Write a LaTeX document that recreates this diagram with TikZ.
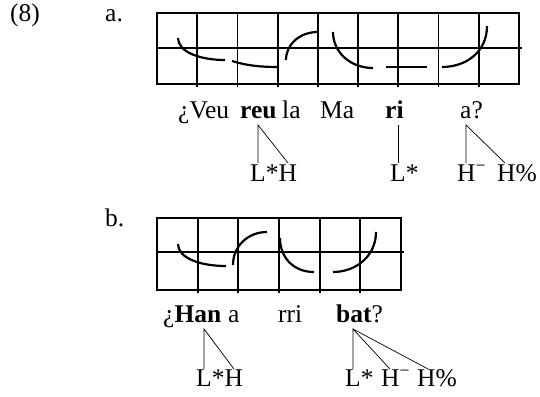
\documentclass[tikz,border=0pt]{standalone}
\usepackage{fontspec}
\setmainfont{Liberation Serif}
\begin{document}
\begin{tikzpicture}[x=1pt,y=-1pt,
  gridline/.style={line width=1.8pt},
  contour/.style={line width=2.2pt},
  assoc/.style={line width=0.7pt},
  word/.style={anchor=base west,inner sep=0pt,font=\fontsize{25.5}{28}\selectfont},
  tone/.style={anchor=base west,inner sep=0pt,font=\fontsize{25.5}{28}\selectfont}]
\useasboundingbox (0,0) rectangle (540,396);
% labels
\node[word] (ex) at (10,22) {(8)};
\node[word] (la) at (105,22) {a.};
\node[word] (lb) at (105,226) {b.};
% grid a
\draw[gridline] (157,13) rectangle (519,84);
\draw[gridline] (157,48) -- (522,48);
\foreach \x in {197.2,237.4,277.6,317.8,358,398.2,438.4,478.6}
  \draw[gridline] (\x,13) -- (\x,87);
% contour a
\draw[contour] (178,38) .. controls (178,52) and (200,60) .. (225,60);
\draw[contour] (232,61) .. controls (248,66) and (262,67) .. (279,67);
\draw[contour] (286,60) .. controls (286,44) and (300,32) .. (318,32);
\draw[contour] (333,32) .. controls (333,52) and (350,68) .. (373,68);
\draw[contour] (386,67) -- (427,67);
\draw[contour] (442,67) .. controls (466,67) and (487,52) .. (487,26);
% text a
\node[word] (w1) at (178,118) {¿Veu};
\node[word] (w2) at (240,118) {\textbf{reu}};
\node[word] (w3) at (282,118) {la};
\node[word] (w4) at (320,118) {Ma};
\node[word] (w5) at (385,118) {\textbf{ri}};
\node[word] (w6) at (460,118) {a?};
\node[tone] (t1) at (250,181) {L*H};
\node[tone] (t2) at (390,181) {L*};
\node[tone] (t3) at (457,181) {H\textsuperscript{−}};
\node[tone] (t4) at (497,181) {H\%};
\coordinate (c1) at (258,125);
\coordinate (c1a) at (258,163);
\coordinate (c1b) at (288,163);
\coordinate (c2) at (398,125);
\coordinate (c2a) at (398,163);
\coordinate (c3) at (466,125);
\coordinate (c3a) at (466,163);
\coordinate (c3b) at (505,163);
\draw[assoc] (c1a) -- (c1) -- (c1b);
\draw[assoc] (c2) -- (c2a);
\draw[assoc] (c3a) -- (c3) -- (c3b);
% grid b
\draw[gridline] (157,218) rectangle (401,290);
\draw[gridline] (157,252) -- (404,252);
\foreach \x in {197.7,238.3,279,319.7,360.3}
  \draw[gridline] (\x,218) -- (\x,293);
% contour b
\draw[contour] (178,244) .. controls (178,258) and (200,266) .. (226,266);
\draw[contour] (233,265) .. controls (233,246) and (248,232) .. (267,232);
\draw[contour] (280,238) .. controls (280,258) and (294,272) .. (314,272);
\draw[contour] (333,272) .. controls (356,272) and (376,256) .. (376,232);
% text b
\node[word] (v1) at (163,322) {¿\textbf{Han}};
\node[word] (v2) at (228,322) {a};
\node[word] (v3) at (278,322) {rri};
\node[word] (v4) at (336,322) {\textbf{bat}?};
\node[tone] (s1) at (196,386) {L*H};
\node[tone] (s2) at (345,386) {L*};
\node[tone] (s3) at (381,386) {H\textsuperscript{−}};
\node[tone] (s4) at (417,386) {H\%};
\coordinate (d1) at (204,329);
\coordinate (d1a) at (204,369);
\coordinate (d1b) at (234,369);
\coordinate (d2) at (353,329);
\coordinate (d2a) at (353,369);
\coordinate (d2b) at (390,369);
\coordinate (d2c) at (428,369);
\draw[assoc] (d1a) -- (d1) -- (d1b);
\draw[assoc] (d2a) -- (d2) -- (d2b);
\draw[assoc] (d2) -- (d2c);
\end{tikzpicture}
\end{document}
